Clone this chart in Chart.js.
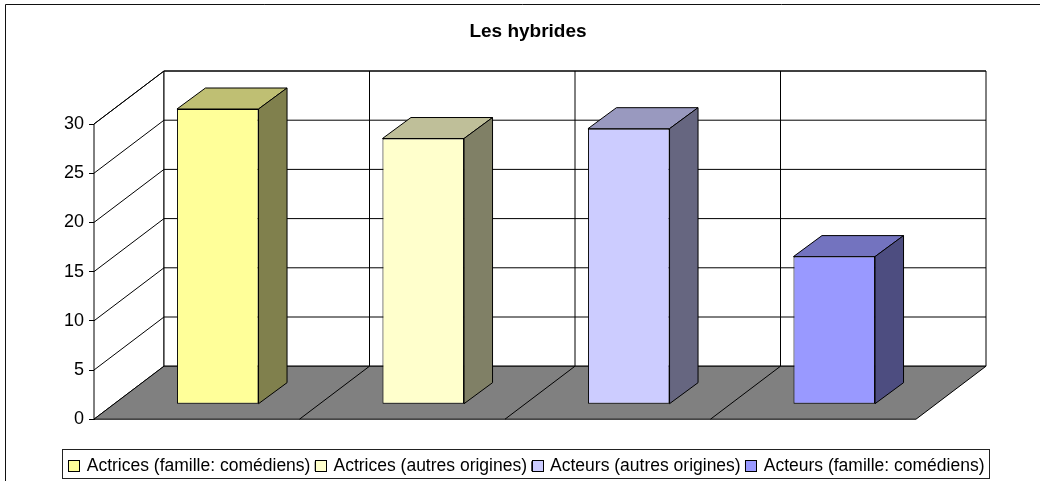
<!DOCTYPE html>
<html>
<head>
<meta charset="utf-8">
<title>Les hybrides</title>
<style>
html, body { margin: 0; padding: 0; background: #fff; }
canvas { display: block; }
</style>
<script src="https://cdn.jsdelivr.net/npm/chart.js@4/dist/chart.umd.min.js"></script>
</head>
<body>
<canvas id="chart" width="1040" height="481"></canvas>
<script>
var categories = ['Actrices (famille: comédiens)', 'Actrices (autres origines)', 'Acteurs (autres origines)', 'Acteurs (famille: comédiens)'];
var values = [30, 27, 28, 15];
var tickValues = [0, 5, 10, 15, 20, 25, 30];
var chartTitle = 'Les hybrides';

var frontColors = ['#FFFF99', '#FFFFCC', '#CCCCFF', '#9999FF'];
var topColors = ['#BFBF73', '#BFBF99', '#9999BF', '#7373BF'];
var sideColors = ['#80804D', '#808066', '#666680', '#4D4D80'];

// depth of the box, and how far into it the bars stand
var wallDx = 70, wallDy = 53;
var barDx = 21, barDy = 15;
var barDepthX = 28.5, barDepthY = 21;

function poly(ctx, pts, fill) {
    ctx.beginPath();
    ctx.moveTo(pts[0][0], pts[0][1]);
    for (var i = 1; i < pts.length; i++) {
        ctx.lineTo(pts[i][0], pts[i][1]);
    }
    ctx.closePath();
    if (fill) {
        ctx.fillStyle = fill;
        ctx.fill();
    }
    ctx.stroke();
}

function line(ctx, x1, y1, x2, y2) {
    ctx.beginPath();
    ctx.moveTo(x1, y1);
    ctx.lineTo(x2, y2);
    ctx.stroke();
}

var box3d = {
    id: 'box3d',
    afterLayout: function(chart) {
        // legend wants a bit more room on the left than the title
        chart.titleBlock.left += 3;
    },
    beforeDraw: function(chart) {
        var ctx = chart.ctx;
        // page frame, open on the right and at the bottom
        ctx.save();
        ctx.strokeStyle = '#111';
        ctx.lineWidth = 1;
        ctx.beginPath();
        ctx.moveTo(5.5, chart.height);
        ctx.lineTo(5.5, 4.5);
        ctx.lineTo(chart.width, 4.5);
        ctx.stroke();

        // legend box
        var boxes = chart.legend.legendHitBoxes;
        var first = boxes[0], last = boxes[boxes.length - 1];
        ctx.strokeStyle = '#222';
        ctx.strokeRect(Math.round(first.left) - 5.5, 449.5, Math.round(last.left + last.width - first.left) + 11, 29);
        ctx.restore();
    },
    beforeDatasetsDraw: function(chart) {
        var ctx = chart.ctx;
        var xs = chart.scales.x, ys = chart.scales.y;
        var left = xs.left, right = xs.right;
        var bottom = ys.getPixelForValue(0), top = ys.getPixelForValue(30);
        var step = (right - left) / categories.length;

        ctx.save();
        ctx.strokeStyle = '#000';
        ctx.lineWidth = 1;

        // walls
        poly(ctx, [[left, bottom], [left + wallDx, bottom - wallDy], [left + wallDx, top - wallDy], [left, top]], '#fff');
        poly(ctx, [[left + wallDx, bottom - wallDy], [right + wallDx, bottom - wallDy], [right + wallDx, top - wallDy], [left + wallDx, top - wallDy]], '#fff');

        // gridlines on both walls
        tickValues.forEach(function(v) {
            var y = ys.getPixelForValue(v);
            if (v > 0) {
                line(ctx, left, y, left + wallDx, y - wallDy);
                line(ctx, left + wallDx, y - wallDy, right + wallDx, y - wallDy);
            }
        });
        for (var i = 1; i < categories.length; i++) {
            line(ctx, left + step * i + wallDx, bottom - wallDy, left + step * i + wallDx, top - wallDy);
        }

        // floor
        poly(ctx, [[left, bottom], [right, bottom], [right + wallDx, bottom - wallDy], [left + wallDx, bottom - wallDy]], '#808080');
        for (var j = 1; j < categories.length; j++) {
            line(ctx, left + step * j, bottom, left + step * j + wallDx, bottom - wallDy);
        }

        // bars stand inside the box, so shift them back from the front plane
        ctx.translate(barDx, -barDy);
        var bars = chart.getDatasetMeta(0).data;
        for (var k = 0; k < bars.length; k++) {
            var p = bars[k].getProps(['x', 'y', 'base', 'width'], true);
            var x1 = p.x - p.width / 2, x2 = p.x + p.width / 2;
            poly(ctx, [[x1, p.y], [x1 + barDepthX, p.y - barDepthY], [x2 + barDepthX, p.y - barDepthY], [x2, p.y]], topColors[k]);
            poly(ctx, [[x2, p.y], [x2 + barDepthX, p.y - barDepthY], [x2 + barDepthX, p.base - barDepthY], [x2, p.base]], sideColors[k]);
        }
        ctx.restore();

        // front faces are drawn by the library with the same shift
        ctx.save();
        ctx.translate(barDx, -barDy);
    },
    afterDatasetsDraw: function(chart) {
        chart.ctx.restore();
    },
    afterDraw: function(chart) {
        // legend swatches are wider than the library's text offset allows
        var ctx = chart.ctx;
        ctx.save();
        ctx.strokeStyle = '#000';
        ctx.lineWidth = 1;
        chart.legend.legendHitBoxes.forEach(function(hb, i) {
            var bx = Math.round(hb.left) + 0.5;
            var by = Math.round(hb.top + hb.height / 2 - 6) + 0.5;
            ctx.fillStyle = frontColors[i];
            ctx.fillRect(bx, by, 11, 11);
            ctx.strokeRect(bx, by, 11, 11);
        });
        ctx.restore();
    }
};

new Chart(document.getElementById('chart').getContext('2d'), {
    type: 'bar',
    data: {
        labels: categories,
        datasets: [{
            data: values,
            backgroundColor: frontColors,
            borderColor: '#000',
            borderWidth: 1,
            borderSkipped: false,
            barPercentage: 0.397,
            categoryPercentage: 1,
            clip: false,
            yAxisID: 'y'
        }]
    },
    options: {
        responsive: false,
        animation: false,
        font: { family: '"Liberation Sans", Arial, sans-serif' },
        layout: { padding: { left: 13, right: 0, top: 20, bottom: -4 } },
        plugins: {
            tooltip: { enabled: false },
            title: {
                display: true,
                text: chartTitle,
                color: '#000',
                font: { family: '"Liberation Sans", Arial, sans-serif', size: 19, weight: 'bold' },
                padding: { top: 0, bottom: 81.2 }
            },
            legend: {
                display: true,
                position: 'bottom',
                onClick: null,
                labels: {
                    color: '#000',
                    font: { family: '"Liberation Sans", Arial, sans-serif', size: 17.5 },
                    boxWidth: 9.5,
                    boxHeight: 9.5,
                    padding: 4.8,
                    generateLabels: function() {
                        return categories.map(function(name, i) {
                            return { text: name, fillStyle: frontColors[i], strokeStyle: '#000', lineWidth: 1, datasetIndex: 0, index: i };
                        });
                    }
                }
            }
        },
        scales: {
            x: {
                grid: { display: false, drawTicks: false },
                border: { display: false },
                ticks: { display: false },
                afterFit: function(scale) { scale.height = 33.5; }
            },
            y: {
                min: 0,
                max: 30,
                afterBuildTicks: function(scale) {
                    scale.ticks = tickValues.map(function(v) { return { value: v }; });
                },
                afterFit: function(scale) { scale.width = 81; },
                grid: { drawOnChartArea: false, drawTicks: true, tickLength: 5, color: '#000' },
                border: { display: true, color: '#000' },
                ticks: { color: '#000', padding: 5, font: { family: '"Liberation Sans", Arial, sans-serif', size: 18 } }
            },
            // empty axis on the right, only keeps room for the depth of the box
            yRoom: {
                position: 'right',
                grid: { display: false, drawTicks: false },
                border: { display: false },
                ticks: { display: false },
                afterFit: function(scale) { scale.width = 124; }
            }
        }
    },
    plugins: [box3d]
});
</script>
</body>
</html>
